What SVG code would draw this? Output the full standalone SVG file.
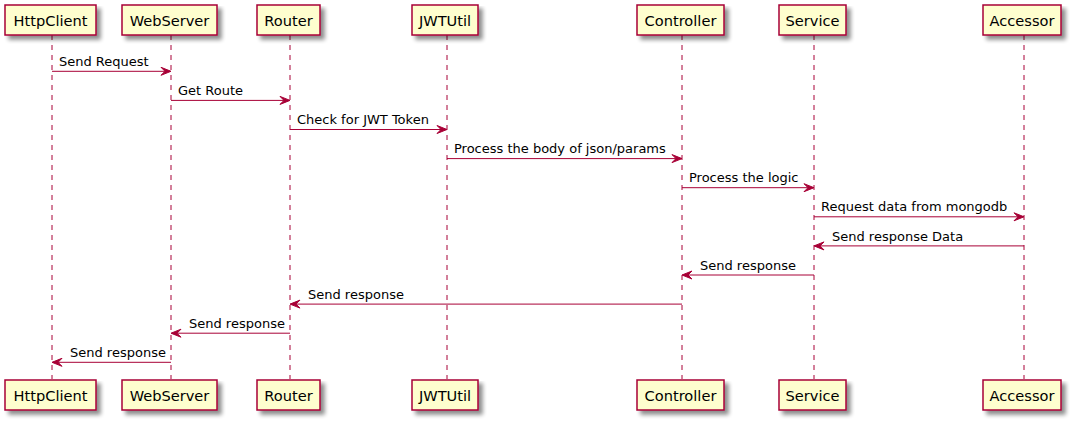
<svg xmlns="http://www.w3.org/2000/svg" width="1074" height="423" viewBox="0 0 1074 423">
<defs>
<filter id="sh" x="-10%" y="-10%" width="130%" height="150%">
<feGaussianBlur in="SourceAlpha" stdDeviation="2" result="b"/>
<feOffset in="b" dx="4" dy="4" result="o"/>
<feComponentTransfer in="o" result="o2"><feFuncA type="linear" slope="0.45"/></feComponentTransfer>
<feMerge><feMergeNode in="o2"/><feMergeNode in="SourceGraphic"/></feMerge>
</filter>
<style>
.box{fill:#FEFECE;stroke:#A80036;stroke-width:1.5;filter:url(#sh)}
.pt{font-family:"DejaVu Sans",sans-serif;font-size:14.6px;fill:#000;text-anchor:middle}
.life{stroke:#A80036;stroke-width:1;stroke-dasharray:5,5;fill:none}
.msg{stroke:#A80036;stroke-width:1;fill:none}
.ah{fill:#A80036;stroke:#A80036;stroke-width:1}
.mt{font-family:"DejaVu Sans",sans-serif;font-size:13px;fill:#000}
</style>
</defs>
<rect width="1074" height="423" fill="#FFFFFF"/>
<g id="lifelines">
<line class="life" x1="52" y1="35" x2="52" y2="379"/>
<line class="life" x1="171" y1="35" x2="171" y2="379"/>
<line class="life" x1="290" y1="35" x2="290" y2="379"/>
<line class="life" x1="447" y1="35" x2="447" y2="379"/>
<line class="life" x1="682" y1="35" x2="682" y2="379"/>
<line class="life" x1="814" y1="35" x2="814" y2="379"/>
<line class="life" x1="1024" y1="35" x2="1024" y2="379"/>
</g>
<g id="HttpClient">
<rect class="box" x="5" y="5" width="91" height="30"/><text class="pt" x="50.5" y="25.5">HttpClient</text>
<rect class="box" x="5" y="380" width="91" height="30"/><text class="pt" x="50.5" y="400.5">HttpClient</text>
</g>
<g id="WebServer">
<rect class="box" x="122" y="5" width="95" height="30"/><text class="pt" x="169.5" y="25.5">WebServer</text>
<rect class="box" x="122" y="380" width="95" height="30"/><text class="pt" x="169.5" y="400.5">WebServer</text>
</g>
<g id="Router">
<rect class="box" x="257" y="5" width="63" height="30"/><text class="pt" x="288.5" y="25.5">Router</text>
<rect class="box" x="257" y="380" width="63" height="30"/><text class="pt" x="288.5" y="400.5">Router</text>
</g>
<g id="JWTUtil">
<rect class="box" x="412" y="5" width="66" height="30"/><text class="pt" x="445" y="25.5">JWTUtil</text>
<rect class="box" x="412" y="380" width="66" height="30"/><text class="pt" x="445" y="400.5">JWTUtil</text>
</g>
<g id="Controller">
<rect class="box" x="637" y="5" width="87" height="30"/><text class="pt" x="680.5" y="25.5">Controller</text>
<rect class="box" x="637" y="380" width="87" height="30"/><text class="pt" x="680.5" y="400.5">Controller</text>
</g>
<g id="Service">
<rect class="box" x="779" y="5" width="67" height="30"/><text class="pt" x="812.5" y="25.5">Service</text>
<rect class="box" x="779" y="380" width="67" height="30"/><text class="pt" x="812.5" y="400.5">Service</text>
</g>
<g id="Accessor">
<rect class="box" x="983" y="5" width="78" height="30"/><text class="pt" x="1022" y="25.5">Accessor</text>
<rect class="box" x="983" y="380" width="78" height="30"/><text class="pt" x="1022" y="400.5">Accessor</text>
</g>
<g id="connectors">
<line class="msg" x1="52" y1="71.3" x2="170" y2="71.3"/><polygon class="ah" points="161,67.3 171,71.3 161,75.3 165,71.3"/>
<text class="mt" x="59" y="66">Send Request</text>
<line class="msg" x1="171" y1="100.4" x2="289" y2="100.4"/><polygon class="ah" points="280,96.4 290,100.4 280,104.4 284,100.4"/>
<text class="mt" x="178" y="95">Get Route</text>
<line class="msg" x1="290" y1="129.5" x2="446" y2="129.5"/><polygon class="ah" points="437,125.5 447,129.5 437,133.5 441,129.5"/>
<text class="mt" x="297" y="124">Check for JWT Token</text>
<line class="msg" x1="447" y1="158.6" x2="681" y2="158.6"/><polygon class="ah" points="672,154.6 682,158.6 672,162.6 676,158.6"/>
<text class="mt" x="454" y="153">Process the body of json/params</text>
<line class="msg" x1="682" y1="187.7" x2="813" y2="187.7"/><polygon class="ah" points="804,183.7 814,187.7 804,191.7 808,187.7"/>
<text class="mt" x="689" y="182">Process the logic</text>
<line class="msg" x1="814" y1="216.8" x2="1023" y2="216.8"/><polygon class="ah" points="1014,212.8 1024,216.8 1014,220.8 1018,216.8"/>
<text class="mt" x="821" y="211">Request data from mongodb</text>
<line class="msg" x1="815" y1="245.9" x2="1024" y2="245.9"/><polygon class="ah" points="824,241.9 814,245.9 824,249.9 820,245.9"/>
<text class="mt" x="832" y="240.5">Send response Data</text>
<line class="msg" x1="683" y1="275" x2="814" y2="275"/><polygon class="ah" points="692,271 682,275 692,279 688,275"/>
<text class="mt" x="700" y="269.5">Send response</text>
<line class="msg" x1="291" y1="304.1" x2="682" y2="304.1"/><polygon class="ah" points="300,300.1 290,304.1 300,308.1 296,304.1"/>
<text class="mt" x="308" y="298.5">Send response</text>
<line class="msg" x1="172" y1="333.2" x2="290" y2="333.2"/><polygon class="ah" points="181,329.2 171,333.2 181,337.2 177,333.2"/>
<text class="mt" x="189" y="327.5">Send response</text>
<line class="msg" x1="53" y1="362.3" x2="171" y2="362.3"/><polygon class="ah" points="62,358.3 52,362.3 62,366.3 58,362.3"/>
<text class="mt" x="70" y="356.5">Send response</text>
</g>
</svg>
